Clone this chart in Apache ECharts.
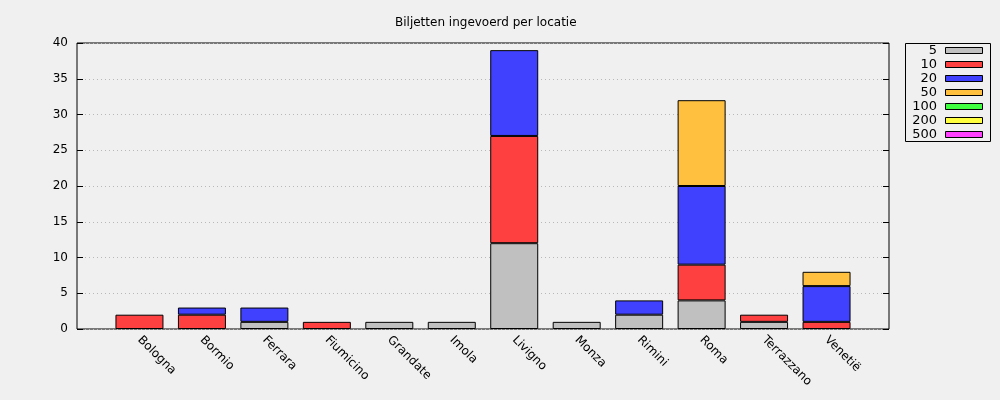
<!DOCTYPE html>
<html><head><meta charset="utf-8">
<script src="https://cdn.jsdelivr.net/npm/echarts@6/dist/echarts.min.js"></script>
<style>html,body{margin:0;padding:0;background:#f0f0f0}#c{width:1000px;height:400px}</style>
</head><body><div id="c"></div>
<script>
const categories = ['Bologna','Bormio','Ferrara','Fiumicino','Grandate','Imola','Livigno','Monza','Rimini','Roma','Terrazzano','Venetië'];
const seriesNames = ['5','10','20','50','100','200','500'];
const seriesColors = ['#c0c0c0','#ff4040','#4040ff','#ffc040','#40ff40','#ffff40','#ff40ff'];
const v5   = [0,0,1,0,1,1,12,1,2,4,1,0];
const v10  = [2,2,0,1,0,0,15,0,0,5,1,1];
const v20  = [0,1,2,0,0,0,12,0,2,11,0,5];
const v50  = [0,0,0,0,0,0,0,0,0,12,0,2];
const v100 = [0,0,0,0,0,0,0,0,0,0,0,0];
const v200 = [0,0,0,0,0,0,0,0,0,0,0,0];
const v500 = [0,0,0,0,0,0,0,0,0,0,0,0];
const yTicks = [0,5,10,15,20,25,30,35,40];
const title = 'Biljetten ingevoerd per locatie';

const allValues = [v5,v10,v20,v50,v100,v200,v500];
const FONT = 'DejaVu Sans';
const chart = echarts.init(document.getElementById('c'));

const axisData = [''].concat(categories, ['']);
const series = seriesNames.map((n,i)=>({
  name:n, type:'bar', stack:'s', barWidth:48,
  data:[null].concat(allValues[i].map(v=>v===0?null:v),[null]),
  itemStyle:{color:seriesColors[i], borderColor:'#000', borderWidth:1},
  emphasis:{disabled:true}, animation:false
}));

const graphics = [{type:'rect', shape:{x:905.5,y:43.5,width:85,height:98}, style:{fill:'#f0f0f0',stroke:'#000',lineWidth:1}, z:10}];
seriesNames.forEach((n,i)=>{
  const cy = 51 + i*14;
  graphics.push({type:'text', x:937, y:cy, style:{text:n, fill:'#000', font:'13px "'+FONT+'"', textAlign:'right', textVerticalAlign:'middle'}, z:11});
  graphics.push({type:'rect', shape:{x:945.5,y:cy-3.5,width:37,height:6}, style:{fill:seriesColors[i],stroke:'#000',lineWidth:1}, z:11});
});

chart.setOption({
  backgroundColor:'#f0f0f0',
  animation:false,
  textStyle:{fontFamily:FONT},
  title:{text:title, left:390, top:12, textStyle:{fontSize:12, fontWeight:'normal', color:'#000', fontFamily:FONT}},
  grid:{left:77, right:111, top:43, bottom:71, show:true, borderColor:'#000', borderWidth:1, backgroundColor:'transparent'},
  xAxis:{type:'category', data:axisData, boundaryGap:false,
    axisLine:{show:false}, axisTick:{show:false}, splitLine:{show:false},
    axisLabel:{interval:0, rotate:-45, margin:9, color:'#000', fontSize:12, fontFamily:FONT}},
  yAxis:[{type:'value', min:0, max:40, interval:5, position:'left',
    axisLine:{show:false}, axisTick:{show:true, inside:true, length:6, lineStyle:{color:'#000'}},
    splitLine:{show:true, lineStyle:{color:'#b8b8b8', type:[1,3], width:1}},
    axisLabel:{color:'#000', fontSize:12, margin:9, fontFamily:FONT, formatter:v=>yTicks.includes(v)?String(v):''}},
   {type:'value', min:0, max:40, interval:5, position:'right',
    axisLine:{show:false}, axisTick:{show:true, inside:true, length:6, lineStyle:{color:'#000'}},
    splitLine:{show:false}, axisLabel:{show:false}}],
  series:series,
  graphic:graphics
});
</script></body></html>
